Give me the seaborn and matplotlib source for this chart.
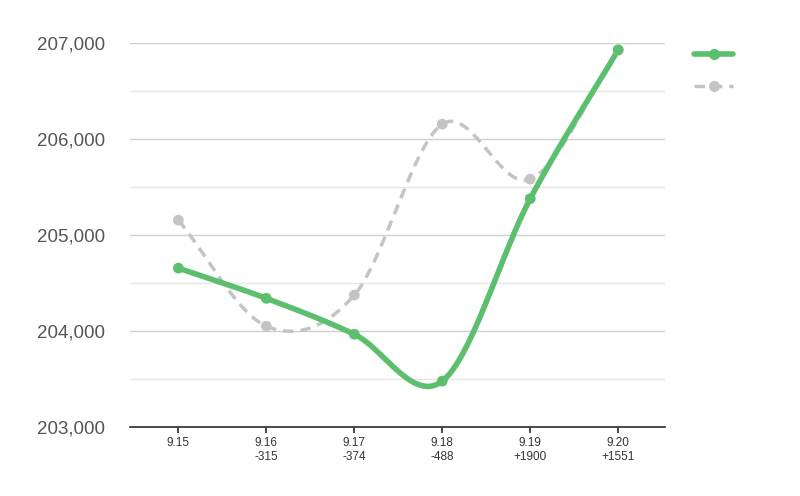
import numpy as np
import pandas as pd
import seaborn as sns
import matplotlib
matplotlib.use("Agg")
import matplotlib.pyplot as plt
from matplotlib.lines import Line2D

categories = ["9.15", "9.16\n-315", "9.17\n-374", "9.18\n-488", "9.19\n+1900", "9.20\n+1551"]
green_vals = [204656, 204341, 203967, 203479, 205379, 206930]
gray_vals = [205156, 204052, 204375, 206156, 205583, 206927]

sns.set_theme(style="white")
plt.rcParams["font.family"] = ["Liberation Sans", "DejaVu Sans"]
fig = plt.figure(figsize=(8, 4.96), dpi=100)
ax = fig.add_axes([0.1625, 0.139, 0.6685, 0.774])

def smooth(y, n=40, t=0.5):
    y = np.asarray(y, float)
    x = np.arange(len(y))
    xs, ys = [], []
    for i in range(len(y) - 1):
        p0 = y[i - 1] if i > 0 else y[i]
        p3 = y[i + 2] if i + 2 < len(y) else y[i + 1]
        p1, p2 = y[i], y[i + 1]
        m1 = t * (p2 - p0) if i > 0 else (p2 - p1)
        m2 = t * (p3 - p1) if i + 2 < len(y) else (p2 - p1)
        s = np.linspace(0, 1, n)
        h00 = 2*s**3 - 3*s**2 + 1; h10 = s**3 - 2*s**2 + s
        h01 = -2*s**3 + 3*s**2; h11 = s**3 - s**2
        xs.append(x[i] + s)
        ys.append(h00*p1 + h10*m1 + h01*p2 + h11*m2)
    return np.concatenate(xs), np.concatenate(ys)

green = "#5bbf6e"
gray = "#c4c4c4"

for v in np.arange(203000, 207001, 500):
    ax.axhline(v, color="#d0d0d0" if v % 1000 == 0 else "#e6e6e6", lw=1, zorder=0)

xs, ys = smooth(gray_vals)
ax.plot(xs, ys, color=gray, lw=2.5, ls=(0, (3, 2)), zorder=2)
xs, ys = smooth(green_vals)
ax.plot(xs, ys, color=green, lw=4, zorder=3)

df = pd.DataFrame({"x": range(len(categories)), "g": green_vals, "r": gray_vals})
sns.scatterplot(data=df, x="x", y="r", ax=ax, color=gray, s=60, edgecolor="none", zorder=4, clip_on=False)
sns.scatterplot(data=df, x="x", y="g", ax=ax, color=green, s=60, edgecolor="none", zorder=5, clip_on=False)

ax.set_xlim(-0.55, 5.53)
ax.set_ylim(203000, 207000)
ax.set_xticks(range(len(categories)))
ax.set_xticklabels(categories, fontsize=8.5, color="#333333")
ax.set_yticks(range(203000, 207001, 1000))
ax.set_yticklabels([f"{v:,}" for v in range(203000, 207001, 1000)], fontsize=13.5, color="#555555")
ax.set_xlabel(""); ax.set_ylabel("")
for s in ["top", "right", "left"]:
    ax.spines[s].set_visible(False)
ax.spines["bottom"].set_color("#333333")
ax.tick_params(axis="x", length=4, color="#333333", bottom=True)
ax.tick_params(axis="y", length=0, pad=18)

handles = [Line2D([], [], color=green, lw=4, marker="o", ms=7),
           Line2D([], [], color=gray, lw=2.5, ls=(0, (3, 2)), marker="o", ms=7)]
fig.legend(handles, ["", ""], loc="upper left", bbox_to_anchor=(0.85, 0.93),
           frameon=False, handlelength=2.6, labelspacing=1.2)

fig.savefig("out.png", dpi=100)
